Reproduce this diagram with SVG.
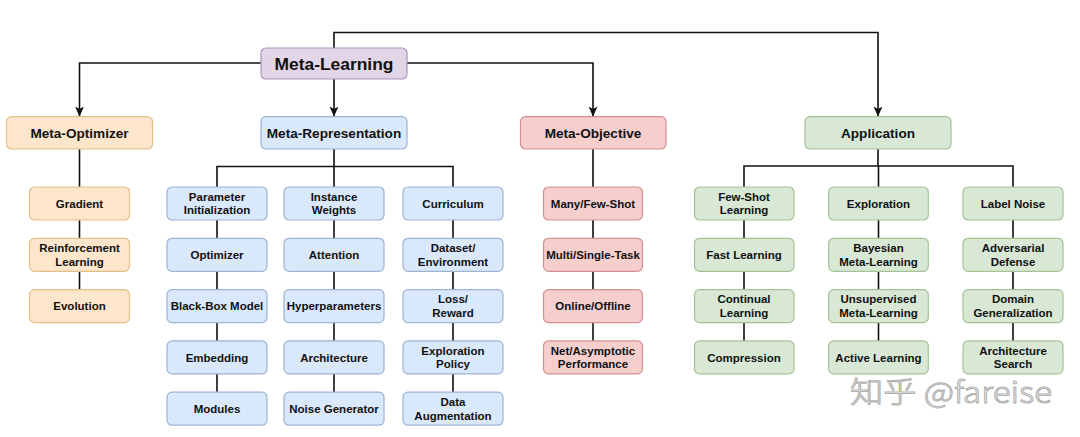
<svg xmlns="http://www.w3.org/2000/svg" width="1080" height="437" viewBox="0 0 1080 437">
<style>
  .t{font-family:"Liberation Sans",Arial,Helvetica,sans-serif;font-weight:bold;fill:#111;text-anchor:middle}
  .s{font-size:11.5px}
  .m{font-size:13.6px}
  .b{stroke-width:1.2}
  .purple{fill:#e1d5e7;stroke:#ab94bd}
  .orange{fill:#fde6cc;stroke:#e4be88}
  .blue{fill:#dae8fc;stroke:#9cb3d6}
  .red{fill:#f6cfcd;stroke:#cf9290}
  .green{fill:#d8e8d4;stroke:#a5c295}
  .c{fill:none;stroke:#111;stroke-width:1.6}
  .wm{font-family:"Noto Sans CJK SC","Noto Sans",sans-serif;font-size:29px;font-weight:300;fill:#ffffff;stroke:#b0b0b0;stroke-width:1}
</style>
<defs>
  <marker id="arr" markerUnits="userSpaceOnUse" markerWidth="12" markerHeight="12" viewBox="0 0 12 12" refX="10" refY="6" orient="auto">
    <path d="M0,1.5 L10,6 L0,10.5 L2.5,6 Z" fill="#111"/>
  </marker>
</defs>
<rect width="1080" height="437" fill="#ffffff"/>

<g id="connectors">
  <path class="c" d="M334,48 V32.5 H878 V116.5" marker-end="url(#arr)"/>
  <path class="c" d="M261,63 H79.5 V116.5" marker-end="url(#arr)"/>
  <path class="c" d="M407,63 H593 V116.5" marker-end="url(#arr)"/>
  <path class="c" d="M334,79 V116.5" marker-end="url(#arr)"/>
  <path class="c" d="M79.5,149 V187 M79.5,220 V238.3 M79.5,271.3 V289.6"/>
  <path class="c" d="M334,149 V166.5 M217,187 V166.5 H453 V187"/>
  <path class="c" d="M217,220 V238.3 M217,271.3 V289.6 M217,322.6 V340.9 M217,373.9 V392.2"/>
  <path class="c" d="M334,166.5 V187 M334,220 V238.3 M334,271.3 V289.6 M334,322.6 V340.9 M334,373.9 V392.2"/>
  <path class="c" d="M453,220 V238.3 M453,271.3 V289.6 M453,322.6 V340.9 M453,373.9 V392.2"/>
  <path class="c" d="M593,149 V187 M593,220 V238.3 M593,271.3 V289.6 M593,322.6 V340.9"/>
  <path class="c" d="M878,149 V166 M744,187 V166 H1013 V187"/>
  <path class="c" d="M744,220 V238.3 M744,271.3 V289.6 M744,322.6 V340.9"/>
  <path class="c" d="M878.5,166 V187 M878.5,220 V238.3 M878.5,271.3 V289.6 M878.5,322.6 V340.9"/>
  <path class="c" d="M1013,220 V238.3 M1013,271.3 V289.6 M1013,322.6 V340.9"/>
</g>

<g id="meta-learning"><rect class="purple b" x="261" y="48" width="146" height="31" rx="5"/><text class="t" x="334" y="69.6" font-size="17.4">Meta-Learning</text></g>

<g id="meta-optimizer"><rect class="orange b" x="6.5" y="116.7" width="146" height="32.3" rx="5"/><text class="t m" x="79.5" y="137.7">Meta-Optimizer</text></g>
<g id="meta-representation"><rect class="blue b" x="261" y="116.7" width="146" height="32.3" rx="5"/><text class="t m" x="334" y="137.7">Meta-Representation</text></g>
<g id="meta-objective"><rect class="red b" x="520.5" y="116.7" width="145.5" height="32.3" rx="5"/><text class="t m" x="593" y="137.7">Meta-Objective</text></g>
<g id="application"><rect class="green b" x="805" y="116.7" width="146" height="32.3" rx="5"/><text class="t m" x="878" y="137.7">Application</text></g>

<g id="gradient"><rect class="orange b" x="29.5" y="187" width="100" height="33" rx="5"/><text class="t s" x="79.5" y="207.6">Gradient</text></g>
<g id="reinforcement-learning"><rect class="orange b" x="29.5" y="238.3" width="100" height="33" rx="5"/><text class="t s" x="79.5" y="252.05">Reinforcement</text><text class="t s" x="79.5" y="265.75">Learning</text></g>
<g id="evolution"><rect class="orange b" x="29.5" y="289.6" width="100" height="33" rx="5"/><text class="t s" x="79.5" y="310.2">Evolution</text></g>

<g id="parameter-initialization"><rect class="blue b" x="167" y="187" width="100" height="33" rx="5"/><text class="t s" x="217" y="200.75">Parameter</text><text class="t s" x="217" y="214.45">Initialization</text></g>
<g id="optimizer"><rect class="blue b" x="167" y="238.3" width="100" height="33" rx="5"/><text class="t s" x="217" y="258.9">Optimizer</text></g>
<g id="black-box-model"><rect class="blue b" x="167" y="289.6" width="100" height="33" rx="5"/><text class="t s" x="217" y="310.2">Black-Box Model</text></g>
<g id="embedding"><rect class="blue b" x="167" y="340.9" width="100" height="33" rx="5"/><text class="t s" x="217" y="361.5">Embedding</text></g>
<g id="modules"><rect class="blue b" x="167" y="392.2" width="100" height="33" rx="5"/><text class="t s" x="217" y="412.8">Modules</text></g>

<g id="instance-weights"><rect class="blue b" x="284" y="187" width="100" height="33" rx="5"/><text class="t s" x="334" y="200.75">Instance</text><text class="t s" x="334" y="214.45">Weights</text></g>
<g id="attention"><rect class="blue b" x="284" y="238.3" width="100" height="33" rx="5"/><text class="t s" x="334" y="258.9">Attention</text></g>
<g id="hyperparameters"><rect class="blue b" x="284" y="289.6" width="100" height="33" rx="5"/><text class="t s" x="334" y="310.2">Hyperparameters</text></g>
<g id="architecture"><rect class="blue b" x="284" y="340.9" width="100" height="33" rx="5"/><text class="t s" x="334" y="361.5">Architecture</text></g>
<g id="noise-generator"><rect class="blue b" x="284" y="392.2" width="100" height="33" rx="5"/><text class="t s" x="334" y="412.8">Noise Generator</text></g>

<g id="curriculum"><rect class="blue b" x="403" y="187" width="100" height="33" rx="5"/><text class="t s" x="453" y="207.6">Curriculum</text></g>
<g id="dataset-environment"><rect class="blue b" x="403" y="238.3" width="100" height="33" rx="5"/><text class="t s" x="453" y="252.05">Dataset/</text><text class="t s" x="453" y="265.75">Environment</text></g>
<g id="loss-reward"><rect class="blue b" x="403" y="289.6" width="100" height="33" rx="5"/><text class="t s" x="453" y="303.35">Loss/</text><text class="t s" x="453" y="317.05">Reward</text></g>
<g id="exploration-policy"><rect class="blue b" x="403" y="340.9" width="100" height="33" rx="5"/><text class="t s" x="453" y="354.65">Exploration</text><text class="t s" x="453" y="368.35">Policy</text></g>
<g id="data-augmentation"><rect class="blue b" x="403" y="392.2" width="100" height="33" rx="5"/><text class="t s" x="453" y="405.95">Data</text><text class="t s" x="453" y="419.65">Augmentation</text></g>

<g id="many-few-shot"><rect class="red b" x="543.5" y="187" width="99" height="33" rx="5"/><text class="t s" x="593" y="207.6">Many/Few-Shot</text></g>
<g id="multi-single-task"><rect class="red b" x="543.5" y="238.3" width="99" height="33" rx="5"/><text class="t s" x="593" y="258.9">Multi/Single-Task</text></g>
<g id="online-offline"><rect class="red b" x="543.5" y="289.6" width="99" height="33" rx="5"/><text class="t s" x="593" y="310.2">Online/Offline</text></g>
<g id="net-asymptotic-performance"><rect class="red b" x="543.5" y="340.9" width="99" height="33" rx="5"/><text class="t s" x="593" y="354.65">Net/Asymptotic</text><text class="t s" x="593" y="368.35">Performance</text></g>

<g id="few-shot-learning"><rect class="green b" x="694.5" y="187" width="99.5" height="33" rx="5"/><text class="t s" x="744" y="200.75">Few-Shot</text><text class="t s" x="744" y="214.45">Learning</text></g>
<g id="fast-learning"><rect class="green b" x="694.5" y="238.3" width="99.5" height="33" rx="5"/><text class="t s" x="744" y="258.9">Fast Learning</text></g>
<g id="continual-learning"><rect class="green b" x="694.5" y="289.6" width="99.5" height="33" rx="5"/><text class="t s" x="744" y="303.35">Continual</text><text class="t s" x="744" y="317.05">Learning</text></g>
<g id="compression"><rect class="green b" x="694.5" y="340.9" width="99.5" height="33" rx="5"/><text class="t s" x="744" y="361.5">Compression</text></g>

<g id="exploration"><rect class="green b" x="828.7" y="187" width="99.6" height="33" rx="5"/><text class="t s" x="878.5" y="207.6">Exploration</text></g>
<g id="bayesian-meta-learning"><rect class="green b" x="828.7" y="238.3" width="99.6" height="33" rx="5"/><text class="t s" x="878.5" y="252.05">Bayesian</text><text class="t s" x="878.5" y="265.75">Meta-Learning</text></g>
<g id="unsupervised-meta-learning"><rect class="green b" x="828.7" y="289.6" width="99.6" height="33" rx="5"/><text class="t s" x="878.5" y="303.35">Unsupervised</text><text class="t s" x="878.5" y="317.05">Meta-Learning</text></g>
<g id="active-learning"><rect class="green b" x="828.7" y="340.9" width="99.6" height="33" rx="5"/><text class="t s" x="878.5" y="361.5">Active Learning</text></g>

<g id="label-noise"><rect class="green b" x="963" y="187" width="100" height="33" rx="5"/><text class="t s" x="1013" y="207.6">Label Noise</text></g>
<g id="adversarial-defense"><rect class="green b" x="963" y="238.3" width="100" height="33" rx="5"/><text class="t s" x="1013" y="252.05">Adversarial</text><text class="t s" x="1013" y="265.75">Defense</text></g>
<g id="domain-generalization"><rect class="green b" x="963" y="289.6" width="100" height="33" rx="5"/><text class="t s" x="1013" y="303.35">Domain</text><text class="t s" x="1013" y="317.05">Generalization</text></g>
<g id="architecture-search"><rect class="green b" x="963" y="340.9" width="100" height="33" rx="5"/><text class="t s" x="1013" y="354.65">Architecture</text><text class="t s" x="1013" y="368.35">Search</text></g>

<g id="watermark"><text class="wm" x="850" y="403" textLength="202" lengthAdjust="spacingAndGlyphs">知乎 @fareise</text></g>
</svg>
